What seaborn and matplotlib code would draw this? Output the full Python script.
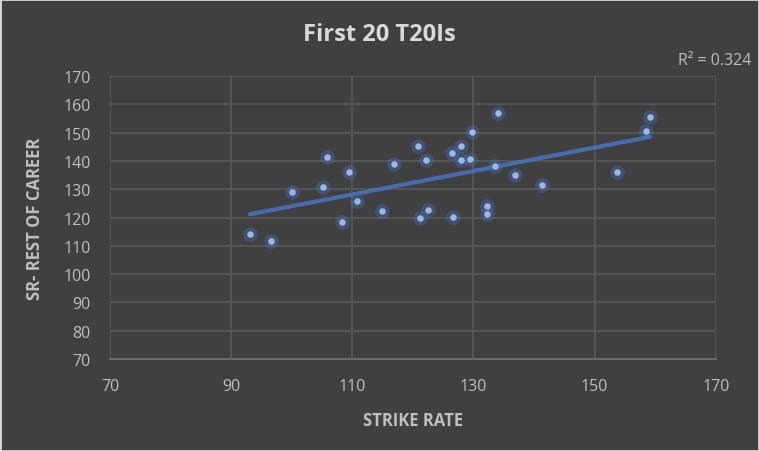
import numpy as np
import pandas as pd
import matplotlib
matplotlib.use("Agg")
import matplotlib.pyplot as plt
import seaborn as sns

# Strike rate in first 20 T20Is vs strike rate for rest of career
first_20_sr = [93.1, 96.5, 100.0, 105.1, 105.9, 109.4, 108.3, 110.8, 114.9, 116.8,
               120.8, 122.1, 121.2, 122.5, 126.7, 126.5, 127.9, 128.0, 129.4, 129.7,
               134.1, 133.5, 132.2, 132.2, 136.8, 141.3, 153.7, 158.5, 159.1]
rest_sr = [114.2, 111.7, 129.0, 130.8, 141.4, 136.1, 118.4, 125.8, 122.3, 138.9,
           145.3, 140.3, 119.8, 122.6, 120.2, 142.8, 145.3, 140.3, 140.7, 150.2,
           156.9, 138.2, 124.1, 121.2, 135.0, 131.5, 136.1, 150.6, 155.5]
ticks = [70, 90, 110, 130, 150, 170]
yticks = [70, 80, 90, 100, 110, 120, 130, 140, 150, 160, 170]
r2_label = "R² = 0.324"

df = pd.DataFrame({"sr": first_20_sr, "rest": rest_sr})

BG = "#404040"
GRID = "#5a5a5a"
TXT = "#bfbfbf"

sns.set_theme(style="dark")
plt.rcParams["font.family"] = ["Liberation Sans Narrow", "Open Sans", "DejaVu Sans"]

fig = plt.figure(figsize=(7.59, 4.52), dpi=100, facecolor=BG)
ax = fig.add_axes([0.145, 0.2035, 0.798, 0.626])
ax.set_facecolor(BG)

# glow under markers
sns.scatterplot(data=df, x="sr", y="rest", ax=ax, s=110, color="#4472c4",
                alpha=0.35, linewidth=0, zorder=3, legend=False)
sns.scatterplot(data=df, x="sr", y="rest", ax=ax, s=22, color="#9db6e4",
                linewidth=0, zorder=4, legend=False)
sns.regplot(data=df, x="sr", y="rest", ax=ax, scatter=False, ci=None,
            line_kws={"color": "#4a72b8", "lw": 3, "alpha": 0.9, "zorder": 2,
                      "solid_capstyle": "round"})

ax.set_xlim(70, 170)
ax.set_ylim(70, 170)
ax.set_xticks(ticks)
ax.set_yticks(yticks)
ax.grid(True, color=GRID, lw=1.2)
for s in ax.spines.values():
    s.set_visible(False)
ax.spines["bottom"].set_visible(True)
ax.spines["bottom"].set_color("#6a6a6a")
ax.spines["bottom"].set_linewidth(1.5)
ax.tick_params(colors=TXT, labelsize=11.5, length=0)
ax.tick_params(axis="x", pad=14)
ax.tick_params(axis="y", pad=14)

ax.set_xlabel("STRIKE RATE", color=TXT, fontsize=12, fontweight="bold", labelpad=12)
ax.set_ylabel("SR- REST OF CAREER", color=TXT, fontsize=12, fontweight="bold", labelpad=14)

fig.text(0.5, 0.922, "First 20 T20Is", ha="center", va="center", color="#d9d9d9",
         fontsize=17, fontweight="bold")
fig.text(0.99, 0.865, r2_label, ha="right", va="center", color=TXT, fontsize=11.5)

# thin light border round the chart
fig.patches.append(plt.Rectangle((0, 0), 1, 1, transform=fig.transFigure, fill=False,
                                 ec="#d9d9d9", lw=2))

fig.savefig("out.png", dpi=100, facecolor=BG)
